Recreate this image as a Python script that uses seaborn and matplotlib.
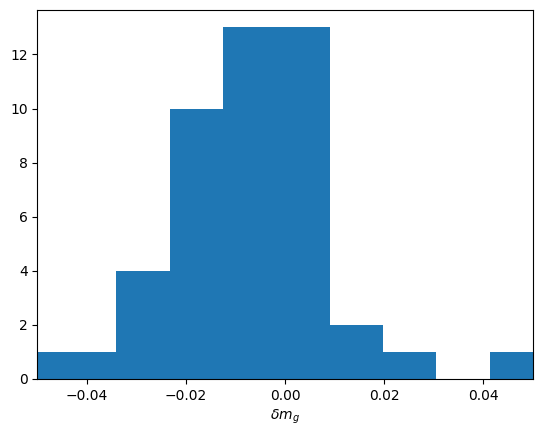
import matplotlib

matplotlib.use("Agg")

import matplotlib.pyplot as plt
import numpy as np
import pandas as pd
import seaborn as sns

# histogram: 10 equal bins
bin_left = -0.0556
bin_right = 0.0520
counts = [1, 1, 4, 10, 13, 13, 2, 1, 0, 1]

edges = np.linspace(bin_left, bin_right, len(counts) + 1)
centers = (edges[:-1] + edges[1:]) / 2
df = pd.DataFrame({"dm": centers, "n": counts})

fig = plt.figure(figsize=(5.43, 4.37), dpi=100)
ax = fig.add_axes([0.0687, 0.133, 0.9129, 0.8445])
sns.histplot(
    data=df,
    x="dm",
    weights="n",
    bins=list(edges),
    color="#1f77b4",
    alpha=1,
    linewidth=0,
    ax=ax,
)
ax.set_xlim(-0.05, 0.05)
ax.set_ylim(0, 13.65)
ax.set_xticks([-0.04, -0.02, 0.0, 0.02, 0.04])
ax.set_xlabel(r"$\delta m_g$")
ax.set_ylabel("")
fig.savefig("out.png", dpi=100)
